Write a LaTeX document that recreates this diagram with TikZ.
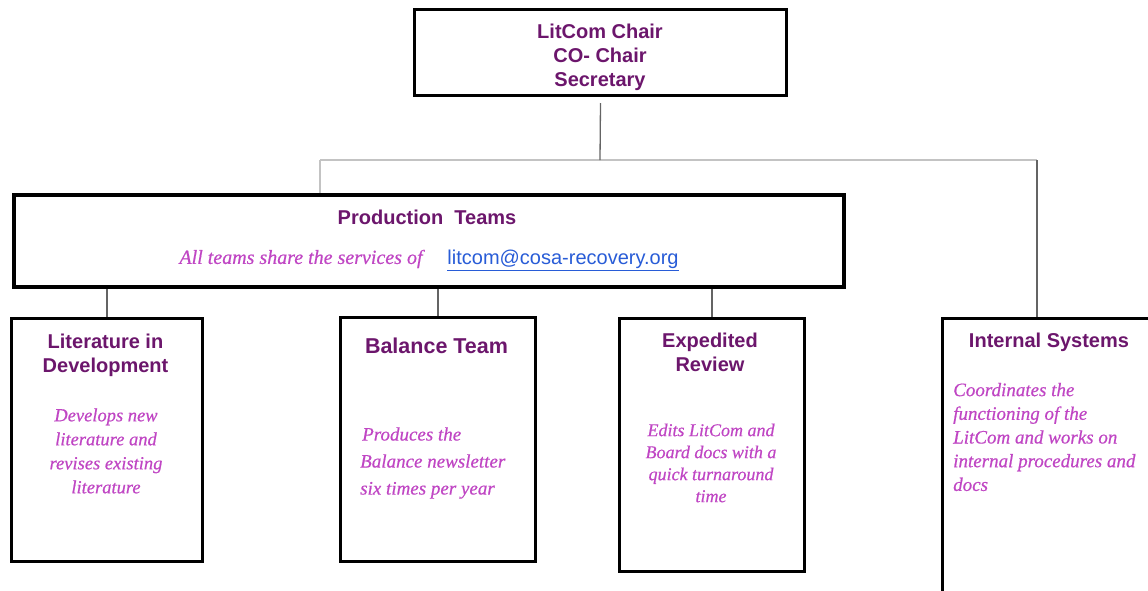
\documentclass[tikz,border=0pt]{standalone}
\usepackage{fontspec}
\setmainfont{Liberation Serif}
\newfontfamily\headfont{Liberation Sans}
\newfontfamily\notefont{Liberation Serif}[ItalicFeatures={FakeBold=0.5}]
\usetikzlibrary{calc}
\definecolor{headpurple}{RGB}{108,22,108}
\definecolor{notepink}{RGB}{192,70,196}
\definecolor{linkblue}{RGB}{40,92,215}
\definecolor{conngray}{RGB}{100,100,100}
\definecolor{busgray}{RGB}{195,195,195}
\begin{document}
\begin{tikzpicture}[x=1pt,y=-1pt,
  orgbox/.style={draw=black, line width=3pt, fill=white, anchor=north west,
    inner sep=0pt},
  head/.style={font=\headfont\bfseries\fontsize{20}{24}\selectfont,
    text=headpurple, align=center, inner sep=0pt},
  note/.style={font=\notefont\itshape\fontsize{18.5}{24}\selectfont,
    text=notepink, inner sep=0pt},
  conn/.style={draw=conngray, line width=1.3pt},
  bus/.style={draw=busgray, line width=1.3pt}]
\useasboundingbox (0,0) rectangle (1148,590);
\clip (0,0) rectangle (1148,590);

% boxes
\node[orgbox, minimum width=372pt, minimum height=86pt] (top) at (413,8) {};
\node[orgbox, line width=4pt, minimum width=830pt, minimum height=92pt] (prod) at (12,193) {};
\node[orgbox, minimum width=191pt, minimum height=243pt] (lit) at (10,317) {};
\node[orgbox, minimum width=195pt, minimum height=244pt] (bal) at (339,316) {};
\node[orgbox, minimum width=185pt, minimum height=253pt] (exp) at (618,317) {};
\node[orgbox, minimum width=220pt, minimum height=290pt] (int) at (941,317) {};

% connectors
\coordinate (busL) at (320,160);
\coordinate (busM) at (600,160);
\coordinate (busR) at (1037,160);
\draw[bus] (busL) -- (busR);
\draw[conn] (top.south) ++(0,6) -- (busM);
\draw[bus] (busL) -- (busL |- prod.north);
\draw[conn] (busR) -- (busR |- int.north);
\draw[conn] (prod.south -| lit.north) -- (lit.north);
\draw[conn] (prod.south -| bal.north) -- (bal.north);
\draw[conn] (prod.south -| exp.north) -- (exp.north);

% texts
\node[head] (topT) at (600,57) {LitCom Chair\\CO- Chair\\Secretary};
\node[head] (prodT) at (427,217) {Production\ \ Teams};
\node[note, font=\notefont\itshape\fontsize{20}{24}\selectfont] (shareT) at (301,259)
  {All teams share the services of};
\node[inner sep=0pt, text=linkblue, font=\headfont\fontsize{20}{24}\selectfont]
  (mail) at (563,260) {\underline{litcom@cosa-recovery.org}};

\node[head] (litT) at (105.5,355) {Literature in\\Development};
\node[note, align=center] (litN) at (106,451)
  {Develops new\\literature and\\revises existing\\literature};

\node[head, font=\headfont\bfseries\fontsize{21.5}{24}\selectfont] (balT) at (436.5,346) {Balance Team};
\node[note, align=left, anchor=west, font=\notefont\itshape\fontsize{19}{27}\selectfont] (balN) at (360,463)
  {\hspace{2pt}Produces the\\Balance newsletter\\six times per year};

\node[head] (expT) at (710,352) {Expedited\\Review};
\node[note, align=center, font=\notefont\itshape\fontsize{18}{22}\selectfont] (expN) at (711,463)
  {Edits LitCom and\\Board docs with a\\quick turnaround\\time};

\node[head] (intT) at (1049,342) {Internal Systems};
\node[note, align=left, anchor=west, font=\notefont\itshape\fontsize{19}{23.7}\selectfont] (intN) at (953,437)
  {Coordinates the\\functioning of the\\LitCom and works on\\internal procedures and\\docs};
\end{tikzpicture}
\end{document}
